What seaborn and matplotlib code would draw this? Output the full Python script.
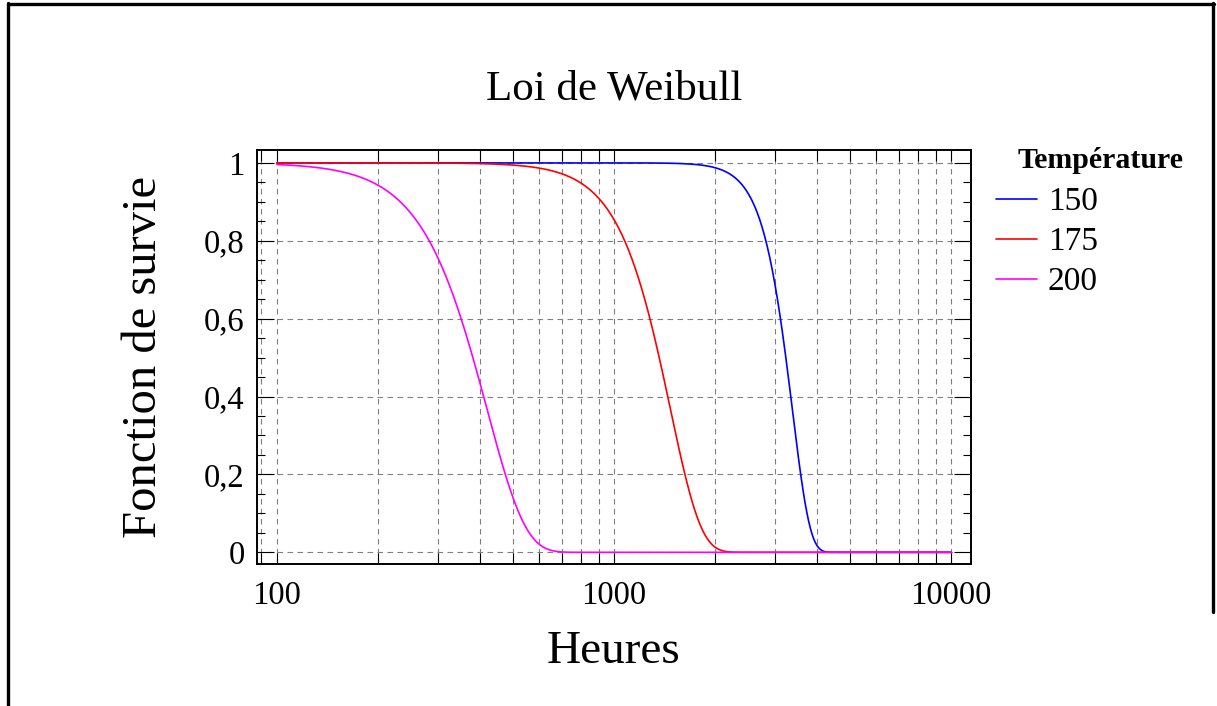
import numpy as np
import pandas as pd
import matplotlib
matplotlib.use("Agg")
import matplotlib.pyplot as plt
from matplotlib.lines import Line2D
from matplotlib.ticker import FixedLocator, LogLocator, NullFormatter, FuncFormatter
import seaborn as sns

# Weibull survival curves by temperature
temperatures = [150, 175, 200]
shape_beta = [8.3, 4.8, 3.8]        # shape parameter
scale_eta = [3380.0, 1470.0, 420.0]  # characteristic life (hours)
colors = ["#0000ff", "#ff0000", "#ff00ff"]
hours_min, hours_max = 100, 10000

x_ticks = [100, 1000, 10000]
x_tick_labels = ["100", "1000", "10000"]
y_ticks = [0, 0.2, 0.4, 0.6, 0.8, 1]
y_tick_labels = ["0", "0,2", "0,4", "0,6", "0,8", "1"]

hours = np.geomspace(hours_min, hours_max, 800)
frames = []
for temp, beta, eta in zip(temperatures, shape_beta, scale_eta):
    surv = np.exp(-(hours / eta) ** beta)
    frames.append(pd.DataFrame({"Heures": hours, "Survie": surv, "Température": str(temp)}))
df = pd.concat(frames, ignore_index=True)

sns.set_theme(style="white")
plt.rcParams["font.family"] = ["Liberation Serif", "DejaVu Serif"]
plt.rcParams.update({"text.color": "black", "axes.labelcolor": "black",
                     "xtick.color": "black", "ytick.color": "black"})

W, H, DPI = 1217, 706, 100
fig = plt.figure(figsize=(W / DPI, H / DPI), dpi=DPI)
fig.patch.set_facecolor("white")

# axes box in pixels
L, R, T, B = 257, 971, 150, 564
ax = fig.add_axes([L / W, 1 - B / H, (R - L) / W, (B - T) / H])

sns.lineplot(data=df, x="Heures", y="Survie", hue="Température",
             hue_order=[str(t) for t in temperatures],
             palette=dict(zip([str(t) for t in temperatures], colors)),
             linewidth=1.2, ax=ax, legend=False, sort=False, estimator=None)

ax.set_xscale("log")
ax.set_xlim(10 ** (2 - 0.059), 10 ** (4 + 0.059))
ax.set_ylim(-0.030, 1.033)

ax.xaxis.set_major_locator(FixedLocator(x_ticks))
ax.xaxis.set_major_formatter(FuncFormatter(lambda v, p: x_tick_labels[x_ticks.index(round(v))] if round(v) in x_ticks else ""))
ax.xaxis.set_minor_locator(LogLocator(base=10, subs=np.arange(2, 10), numticks=20))
ax.xaxis.set_minor_formatter(NullFormatter())
ax.yaxis.set_major_locator(FixedLocator(y_ticks))
ax.set_yticklabels(y_tick_labels)
ax.yaxis.set_minor_locator(FixedLocator(np.arange(0, 1.001, 0.05)))

ax.grid(True, which="major", axis="both", color="#808080", linestyle=(0, (5, 4)), linewidth=0.8)
ax.grid(True, which="minor", axis="x", color="#808080", linestyle=(0, (5, 4)), linewidth=0.8)
ax.set_axisbelow(True)

for s in ax.spines.values():
    s.set_color("black")
    s.set_linewidth(1.4)
    s.set_visible(True)

ax.tick_params(axis="x", which="both", direction="in", top=True, bottom=True,
               length=8, width=0.8, color="black", labelsize=23.5, pad=12,
               labelcolor="black")
ax.tick_params(axis="y", which="major", direction="in", left=True, right=True,
               length=12, width=0.8, color="black", labelsize=23.5, pad=9,
               labelcolor="black")
ax.tick_params(axis="y", which="minor", direction="in", left=True, right=True,
               length=6, width=0.8, color="black")

ax.set_xlabel("Heures", fontsize=34, labelpad=14, color="black")
ax.set_ylabel("Fonction de survie", fontsize=35, labelpad=27, color="black")
ax.set_title("Loi de Weibull", fontsize=31, pad=36, color="black")

# legend
handles = [Line2D([], [], color=c, linewidth=1.2) for c in colors]
fig.legend(handles, [str(t) for t in temperatures], loc="upper left",
           bbox_to_anchor=(996 / W, 1 - 187 / H), frameon=False,
           fontsize=24, handlelength=1.22, handletextpad=0.33,
           labelspacing=0.28, borderaxespad=0, borderpad=0,
           labelcolor="black")
fig.text(1018 / W, 1 - 160 / H, "Température", fontsize=21.5, fontweight="bold",
         ha="left", va="center", color="black")

# outer frame
fig.add_artist(Line2D([7.5 / W, 7.5 / W], [0, 1 - 3 / H], color="black", linewidth=2.4))
fig.add_artist(Line2D([7.5 / W, 1214 / W], [1 - 4 / H, 1 - 4 / H], color="black", linewidth=2.4))
fig.add_artist(Line2D([1212.5 / W, 1212.5 / W], [1 - 612 / H, 1 - 3 / H], color="black", linewidth=2.4))

fig.savefig("out.png", dpi=DPI, facecolor="white")
